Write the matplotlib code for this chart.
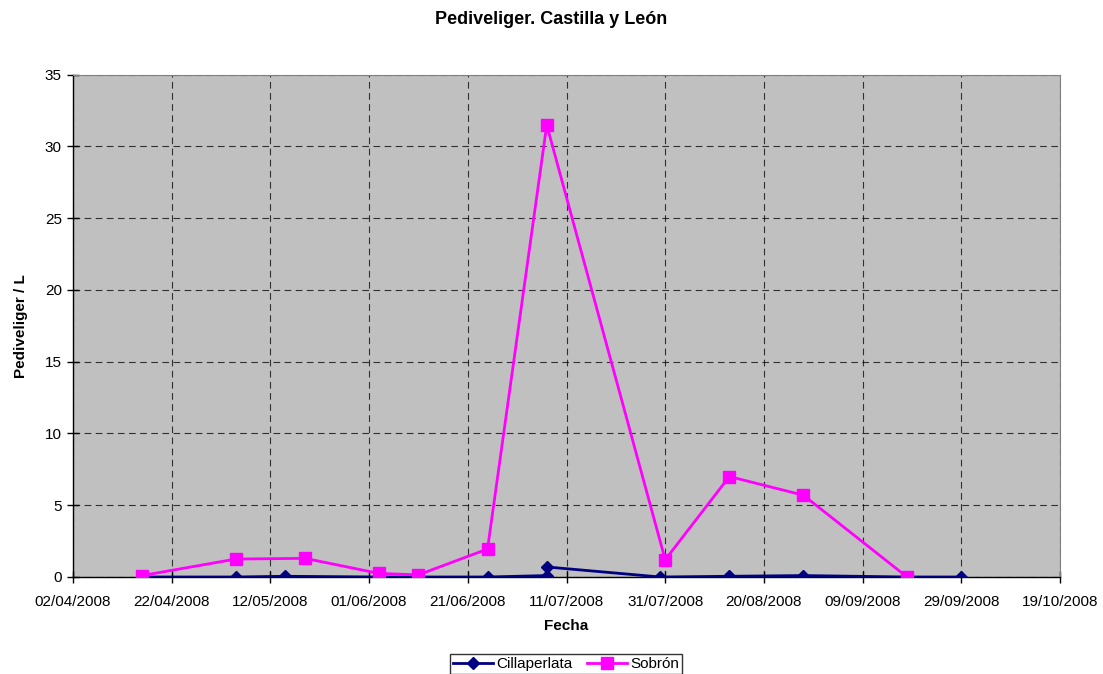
import matplotlib
matplotlib.use("Agg")
import matplotlib.pyplot as plt
import datetime as dt

plt.rcParams['font.family'] = ['Liberation Sans', 'DejaVu Sans']

cill_dates = ["16/04/2008", "05/05/2008", "15/05/2008", "03/06/2008", "25/06/2008",
              "07/07/2008", "07/07/2008", "30/07/2008", "13/08/2008", "28/08/2008",
              "18/09/2008", "29/09/2008"]
cill_vals = [0.0, 0.0, 0.05, 0.0, 0.0, 0.1, 0.7, 0.0, 0.05, 0.1, 0.0, 0.0]

sob_dates = ["16/04/2008", "05/05/2008", "19/05/2008", "03/06/2008", "11/06/2008",
             "25/06/2008", "07/07/2008", "31/07/2008", "13/08/2008", "28/08/2008",
             "18/09/2008"]
sob_vals = [0.1, 1.25, 1.3, 0.25, 0.15, 1.95, 31.5, 1.2, 7.0, 5.7, 0.0]

tick_labels = ["02/04/2008", "22/04/2008", "12/05/2008", "01/06/2008", "21/06/2008",
               "11/07/2008", "31/07/2008", "20/08/2008", "09/09/2008", "29/09/2008",
               "19/10/2008"]

def p(s):
    return dt.datetime.strptime(s, "%d/%m/%Y")

fig = plt.figure(figsize=(11.03, 6.74), dpi=100)
ax = fig.add_axes([73/1103, 1 - 577/674, (1060-73)/1103, (577-74.7)/674])
ax.set_facecolor('#C0C0C0')

ax.plot([p(d) for d in cill_dates], cill_vals, color='#000080', lw=2.0,
        marker='D', markersize=6.5, label='Cillaperlata', zorder=3)
ax.plot([p(d) for d in sob_dates], sob_vals, color='#FF00FF', lw=2.0,
        marker='s', markersize=8.5, label='Sobrón', zorder=4)

ticks = [p(t) for t in tick_labels]
ax.set_xticks(ticks)
ax.set_xticklabels(tick_labels)
ax.set_xlim(ticks[0], ticks[-1])
ax.set_ylim(0, 35)
ax.set_yticks(range(0, 36, 5))

ax.grid(True, color='black', linestyle=(0, (6, 4)), linewidth=0.8, alpha=0.75)
ax.set_axisbelow(True)
for s in ['top', 'right']:
    ax.spines[s].set_color('#808080')
    ax.spines[s].set_linewidth(0.8)
for s in ['left', 'bottom']:
    ax.spines[s].set_color('black')
    ax.spines[s].set_linewidth(1.0)
ax.tick_params(axis='both', labelsize=11, direction='inout', length=8, width=1)
ax.tick_params(axis='x', pad=9)
ax.tick_params(axis='y', pad=4)

ax.set_xlabel('Fecha', fontsize=11, fontweight='bold', labelpad=7)
ax.set_ylabel('Pediveliger / L', fontsize=11, fontweight='bold', labelpad=12)
fig.text(0.5, 1 - 19/674, 'Pediveliger. Castilla y León', ha='center', va='center',
         fontsize=13, fontweight='bold')

leg = fig.legend(loc='center', bbox_to_anchor=(566/1103, 1 - 664/674), ncol=2,
                 fontsize=11, frameon=True, fancybox=False, edgecolor='black',
                 handlelength=2.6, handletextpad=0.2, columnspacing=1.0,
                 borderpad=0.2, borderaxespad=0)
leg.get_frame().set_linewidth(1.0)

fig.savefig('out.png', dpi=100)
